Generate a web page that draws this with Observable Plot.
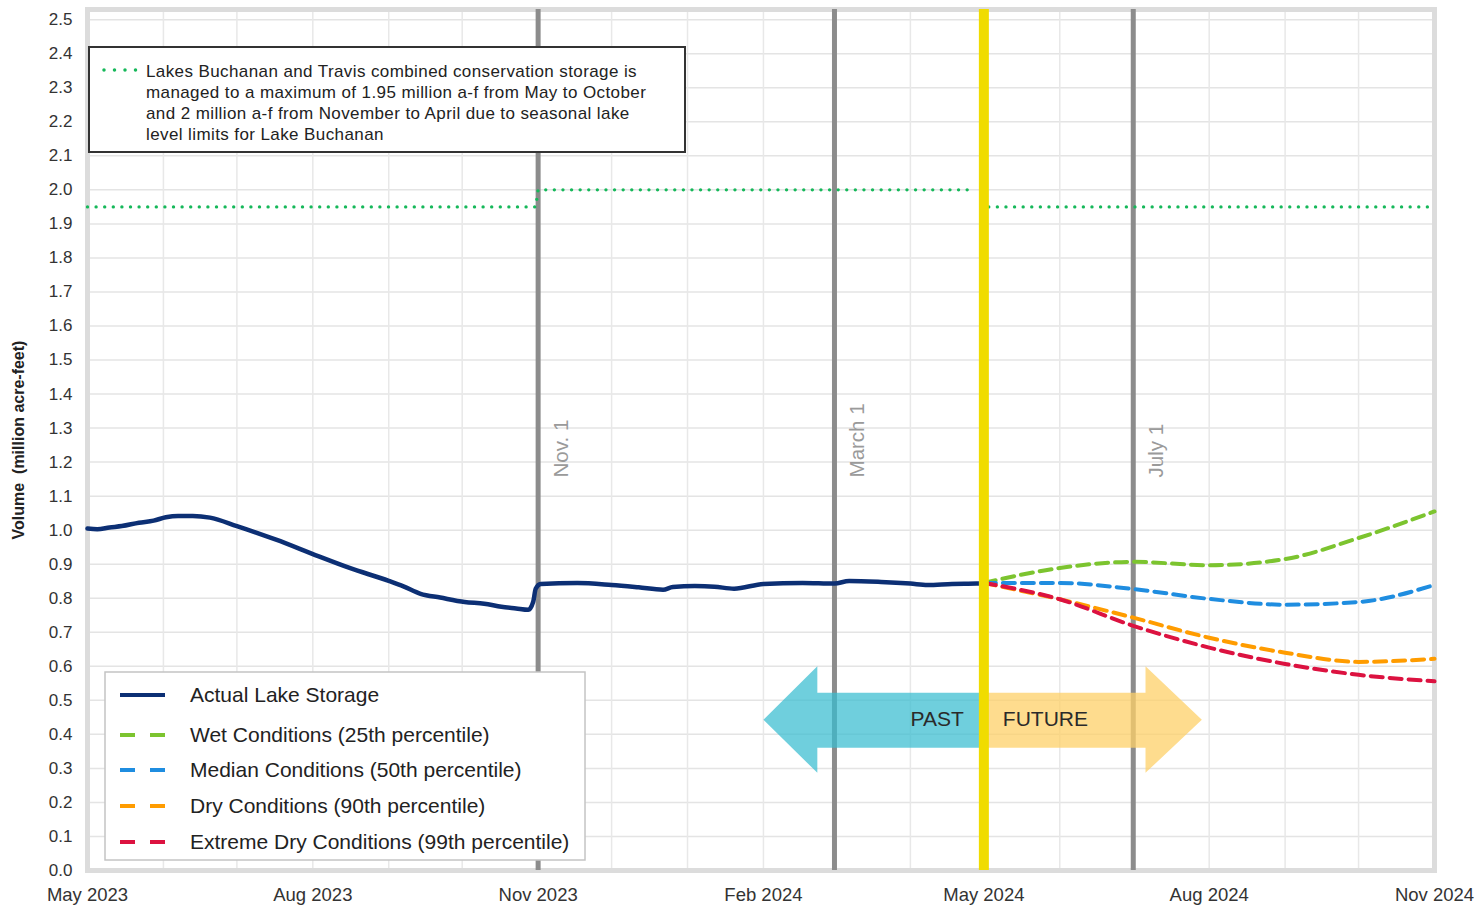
<!DOCTYPE html>
<html><head><meta charset="utf-8">
<script src="https://cdn.jsdelivr.net/npm/d3@7"></script>
<script src="https://cdn.jsdelivr.net/npm/@observablehq/plot@0.6"></script>
<style>
body{margin:0;background:#fff;font-family:"Liberation Sans",Arial,sans-serif}
#chart{position:relative;width:1479px;height:907px}
</style></head><body><div id="chart"></div>
<script>
// ---- data ----
const storageDates = ["2023-05-01","2023-05-05","2023-05-10","2023-05-15","2023-05-22","2023-05-28","2023-06-02","2023-06-07","2023-06-13","2023-06-20","2023-07-01","2023-07-10","2023-07-17","2023-08-02","2023-08-16","2023-09-01","2023-09-07","2023-09-14","2023-09-22","2023-10-02","2023-10-10","2023-10-17","2023-10-23","2023-10-28","2023-10-30","2023-10-31","2023-11-02","2023-11-17","2023-12-01","2023-12-12","2023-12-22","2023-12-26","2024-01-04","2024-01-12","2024-01-20","2024-02-01","2024-02-17","2024-03-01","2024-03-07","2024-03-20","2024-04-01","2024-04-08","2024-04-18","2024-04-28","2024-05-01"];
const storageValues = [1.005,1.003,1.008,1.012,1.022,1.028,1.038,1.042,1.042,1.037,1.012,0.99,0.972,0.927,0.889,0.851,0.835,0.813,0.802,0.789,0.784,0.775,0.770,0.766,0.790,0.828,0.842,0.845,0.839,0.832,0.825,0.833,0.836,0.834,0.828,0.842,0.845,0.843,0.851,0.848,0.843,0.839,0.842,0.843,0.845];

const projectionDates = ["2024-05-01","2024-06-01","2024-07-01","2024-08-01","2024-09-01","2024-10-01","2024-11-01"];
const wetValues     = [0.845,0.889,0.907,0.897,0.915,0.977,1.055];
const medianValues  = [0.845,0.845,0.827,0.798,0.781,0.789,0.839];
const dryValues     = [0.845,0.797,0.743,0.684,0.640,0.613,0.622];
const extremeValues = [0.845,0.797,0.719,0.655,0.607,0.575,0.556];

const limitSegments = ["a","a","a","a","b","b"];
const limitDates  = ["2023-05-01","2023-10-31","2023-11-01","2024-04-27","2024-05-03","2024-11-01"];
const limitValues = [1.95,1.95,2.0,2.0,1.95,1.95];

const eventDates  = ["2023-11-01","2024-03-01","2024-07-01"];
const eventLabels = ["Nov. 1","March 1","July 1"];
const todayDate = "2024-05-01";

const seriesNames = ["Actual Lake Storage","Wet Conditions (25th percentile)","Median Conditions (50th percentile)","Dry Conditions (90th percentile)","Extreme Dry Conditions (99th percentile)"];
const noteLines = ["Lakes Buchanan and Travis combined conservation storage is","managed to a maximum of 1.95 million a-f from May to October","and 2 million a-f from November to April due to seasonal lake","level limits for Lake Buchanan"];

// arrow outlines (date, value)
const pastArrowDates  = ["2024-05-01","2024-02-23","2024-02-23","2024-02-01","2024-02-23","2024-02-23","2024-05-01"];
const pastArrowValues = [0.522,0.522,0.600,0.443,0.287,0.361,0.361];
const futureArrowDates  = ["2024-05-01","2024-07-06","2024-07-06","2024-07-29","2024-07-06","2024-07-06","2024-05-01"];
const futureArrowValues = [0.522,0.522,0.600,0.443,0.287,0.361,0.361];

const yTicks = d3.range(0, 26).map(i => i / 10);
const xTickDates = ["2023-05-01","2023-08-01","2023-11-01","2024-02-01","2024-05-01","2024-08-01","2024-11-01"];

// ---- build ----
const D = s => new Date(s + "T00:00:00Z");
const monthTicks = d3.utcMonth.range(D("2023-06-01"), D("2024-11-01"));
const storage = storageDates.map((d, i) => ({date: D(d), value: storageValues[i]}));
const projColors = ["#7cc42f","#1f8de0","#ff9c00","#dc1240"];
const projValues = [wetValues, medianValues, dryValues, extremeValues];
const projections = projValues.flatMap((vals, k) => projectionDates.map((d, i) => ({series: seriesNames[k+1], date: D(d), value: vals[i], color: projColors[k]})));
const limit = limitDates.map((d, i) => ({z: limitSegments[i], date: D(d), value: limitValues[i]}));
const events = eventDates.map((d, i) => ({date: D(d), label: eventLabels[i]}));
const pastArrow = pastArrowDates.map((d, i) => ({date: D(d), value: pastArrowValues[i]}));
const futureArrow = futureArrowDates.map((d, i) => ({date: D(d), value: futureArrowValues[i]}));

const navy = "#0c2f74";
const green = "#16b85a";

const svgNode = Plot.plot({
  width: 1479, height: 907,
  marginLeft: 87, marginRight: 45, marginTop: 9, marginBottom: 37,
  style: {fontFamily: "Liberation Sans, Arial, sans-serif", background: "#fff", color: "#333"},
  x: {type: "utc", domain: [D("2023-05-01"), D("2024-11-01")]},
  y: {domain: [0, 2.53]},
  marks: [
    Plot.ruleY(yTicks, {stroke: "#e4e4e4", strokeWidth: 1.5}),
    Plot.ruleX(monthTicks, {stroke: "#e8e8e8", strokeWidth: 1.5}),
    Plot.frame({stroke: "#dcdcdc", strokeWidth: 5}),
    Plot.axisY({ticks: yTicks, tickFormat: d3.format(".1f"), tickSize: 0, tickPadding: 15, fontSize: 17, label: null, fill: "#333"}),
    Plot.axisX({ticks: xTickDates.map(D), tickFormat: d3.utcFormat("%b %Y"), tickSize: 0, tickPadding: 17, fontSize: 18.5, label: null, fill: "#333"}),
    Plot.text(["Volume\u00a0 (million acre-feet)"], {frameAnchor: "left", textAnchor: "middle", dx: -69, rotate: -90, fontWeight: "bold", fontSize: 16, fill: "#222"}),
    Plot.ruleX(events, {x: "date", stroke: "#8c8c8c", strokeWidth: 5}),
    Plot.line(pastArrow, {x: "date", y: "value", fill: "#38bcd0", fillOpacity: 0.72, stroke: "none"}),
    Plot.line(futureArrow, {x: "date", y: "value", fill: "#fdd068", fillOpacity: 0.75, stroke: "none"}),
    Plot.text(["PAST"], {x: D(todayDate), y: 0.443, dx: -20, textAnchor: "end", fontSize: 21, fill: "#2a2a2a"}),
    Plot.text(["FUTURE"], {x: D(todayDate), y: 0.443, dx: 19, textAnchor: "start", fontSize: 21, fill: "#2a2a2a"}),
    Plot.line(limit, {x: "date", y: "value", z: "z", stroke: green, strokeWidth: 3.4, strokeDasharray: "0 8.6", strokeLinecap: "round"}),
    Plot.line(storage, {x: "date", y: "value", stroke: navy, strokeWidth: 4.5, curve: "monotone-x"}),
    Plot.line(projections, {x: "date", y: "value", z: "series", stroke: "color", strokeWidth: 4, strokeDasharray: "12 7", curve: "monotone-x"}),
    Plot.ruleX([D(todayDate)], {stroke: "#f0dc00", strokeWidth: 10}),
    Plot.text(events, {x: "date", y: 1.155, text: "label", rotate: -90, textAnchor: "start", dx: 23, fontSize: 20.5, fill: "#9a9a9a"})
  ]
});
document.getElementById("chart").appendChild(svgNode);

// ---- annotation box and legend ----
const svg = d3.select(svgNode);
const note = svg.append("g").attr("font-family", "Liberation Sans, Arial, sans-serif").attr("text-anchor", "start");
note.append("rect").attr("x", 89).attr("y", 47).attr("width", 596).attr("height", 105)
  .attr("fill", "#fff").attr("stroke", "#333").attr("stroke-width", 2);
note.append("line").attr("x1", 104).attr("x2", 137).attr("y1", 70).attr("y2", 70)
  .attr("stroke", green).attr("stroke-width", 3.5).attr("stroke-dasharray", "0 10.5").attr("stroke-linecap", "round");
note.selectAll("text.n").data(noteLines).join("text")
  .attr("x", 146).attr("y", (d, i) => 71 + i * 21).attr("dy", "0.35em")
  .attr("text-anchor", "start").attr("font-size", 17).attr("letter-spacing", "0.4px")
  .attr("fill", "#222").text(d => d);

const leg = svg.append("g").attr("font-family", "Liberation Sans, Arial, sans-serif").attr("text-anchor", "start");
leg.append("rect").attr("x", 105).attr("y", 672).attr("width", 480).attr("height", 188)
  .attr("fill", "#fff").attr("stroke", "#c4c4c4").attr("stroke-width", 1.5);
const legY = [695, 735, 770, 806, 842];
const legColors = [navy, ...projColors];
seriesNames.forEach((name, i) => {
  leg.append("line").attr("x1", 120).attr("x2", 165).attr("y1", legY[i]).attr("y2", legY[i])
    .attr("stroke", legColors[i]).attr("stroke-width", 4)
    .attr("stroke-dasharray", i === 0 ? null : "15 15");
  leg.append("text").attr("x", 190).attr("y", legY[i]).attr("dy", "0.35em")
    .attr("text-anchor", "start").attr("font-size", 21).attr("fill", "#222").text(name);
});
</script></body></html>
